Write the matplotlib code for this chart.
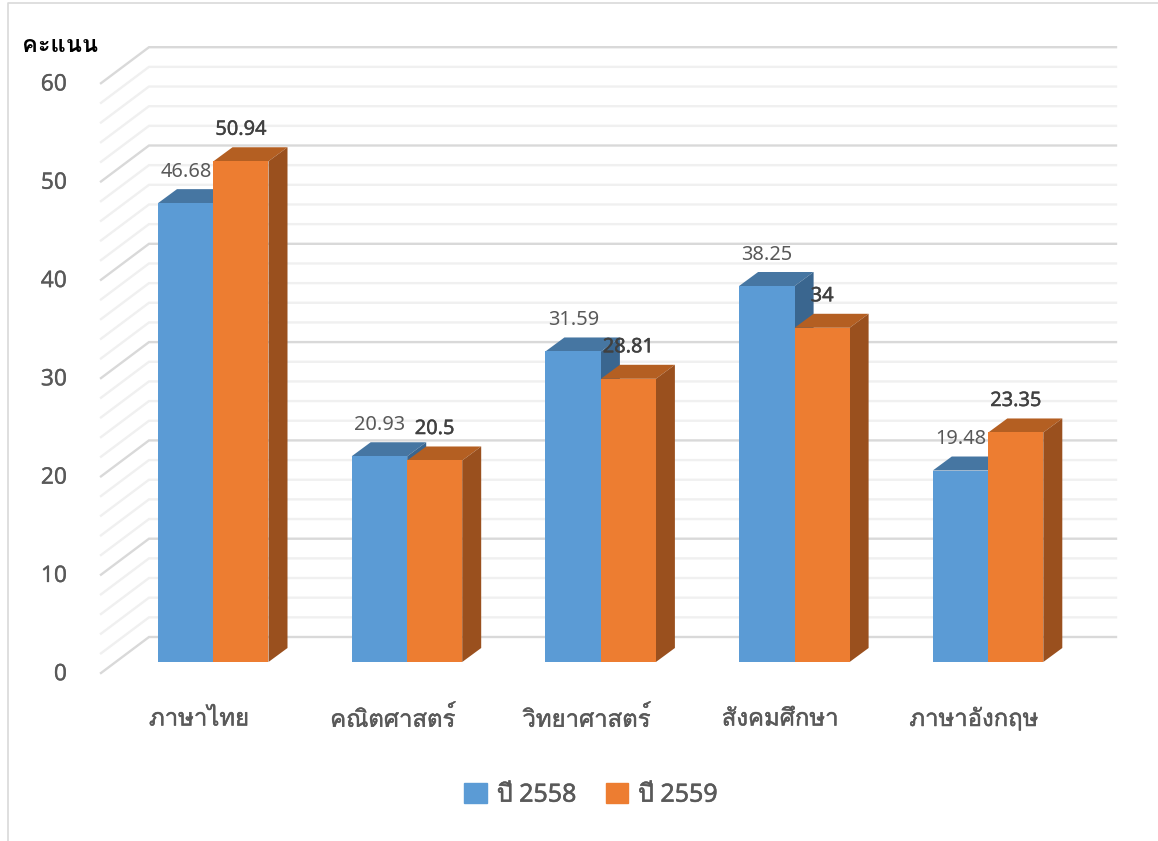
import matplotlib
matplotlib.use("Agg")
import matplotlib.pyplot as plt
import matplotlib.patheffects as pe
from matplotlib.patches import Polygon, Patch

# data
subjects = ['ภาษาไทย', 'คณิตศาสตร์', 'วิทยาศาสตร์', 'สังคมศึกษา', 'ภาษาอังกฤษ']
scores_2558 = [46.68, 20.93, 31.59, 38.25, 19.48]
scores_2559 = [50.94, 20.5, 28.81, 34, 23.35]
series_names = ['ปี 2558', 'ปี 2559']
y_ticks = [0, 10, 20, 30, 40, 50, 60]
y_title = 'คะแนน'

plt.rcParams['font.family'] = ['Noto Sans', 'Loma', 'Noto Sans Thai', 'DejaVu Sans']

PX_X = 193.7   # pixels per category
PX_Y = 9.83    # pixels per score unit
bar_w = 55 / PX_X
dx = 19 / PX_X
dy = 14 / PX_Y


# text looks a bit heavier in the original, thin stroke around it
def heavy(w, col):
    return [pe.withStroke(linewidth=w, foreground=col)]


fig = plt.figure(figsize=(11.58, 8.41), dpi=100)
ax = fig.add_axes([0, 0, 1, 1])
ax.set_xlim(-213.5 / PX_X, (1158 - 213.5) / PX_X)
ax.set_ylim((662 - 841) / PX_Y, 662 / PX_Y)
ax.axis('off')

# walls of the 3d box
back_l, back_r = (149 - 213.5) / PX_X, (1116 - 213.5) / PX_X
front_l = (101 - 213.5) / PX_X
back_up = 25 / PX_Y
front_dn = 11 / PX_Y
for v in range(0, 61, 2):
    major = v % 10 == 0
    col = '#D9D9D9' if major else '#F0F0F0'
    ax.plot([front_l, back_l, back_r], [v - front_dn, v + back_up, v + back_up],
            color=col, lw=1.7, zorder=1 if major else 0.5, solid_joinstyle='miter')


def draw_bar(x, val, w, face, top, side, z):
    ax.bar(x, val, w, align='edge', color=face, zorder=z + 0.2, lw=0)
    ax.add_patch(Polygon([(x, val), (x + dx, val + dy), (x + w + dx, val + dy), (x + w, val)],
                         color=top, zorder=z, lw=0))
    ax.add_patch(Polygon([(x + w, 0), (x + w + dx, dy), (x + w + dx, val + dy), (x + w, val)],
                         color=side, zorder=z, lw=0))


for i, (a, b) in enumerate(zip(scores_2558, scores_2559)):
    draw_bar(i - bar_w - 0.5 / PX_X, a, bar_w + 0.5 / PX_X, '#5B9BD5', '#4676A2', '#3A668F', 2 + i)
    draw_bar(i, b, bar_w, '#ED7D31', '#B45F22', '#9A501E', 2.5 + i)
    ax.text(i - bar_w / 2, a + 3.2, str(a), ha='center', va='center', fontsize=14.4,
            color='#595959', zorder=20)
    ax.text(i + bar_w / 2, b + 3.2, str(b), ha='center', va='center', fontsize=14.4,
            color='#404040', zorder=20, path_effects=heavy(0.3, '#404040'))
    ax.text(i - 14.5 / PX_X, -57.5 / PX_Y, subjects[i], ha='center', va='center',
            fontsize=17.2, color='#595959', path_effects=heavy(0.35, '#595959'))

for v in y_ticks:
    ax.text(front_l - 34 / PX_X, v - 1.25, str(v), ha='right', va='center', fontsize=16.4, color='#595959',
            path_effects=heavy(0.2, '#595959'))

ax.text(-192 / PX_X, 616 / PX_Y, y_title, ha='left', va='center', fontsize=17, fontweight='bold', color='black')

# frame of the picture
ax.plot([-205.5 / PX_X, -205.5 / PX_X, 1158], [-179 / PX_Y, 659 / PX_Y, 659 / PX_Y], color='#D9D9D9', lw=1.2,
        scalex=False, scaley=False)

handles = [Patch(color='#5B9BD5'), Patch(color='#ED7D31')]
leg = ax.legend(handles, series_names, ncol=2, loc='center', bbox_to_anchor=(0.5104, 0.0545), frameon=False,
                fontsize=18, labelcolor='#595959', handlelength=0.9, handleheight=0.9, columnspacing=1.16,
                handletextpad=0.4)
for t in leg.get_texts():
    t.set_path_effects(heavy(0.4, '#595959'))

fig.savefig('out.png', dpi=100)
